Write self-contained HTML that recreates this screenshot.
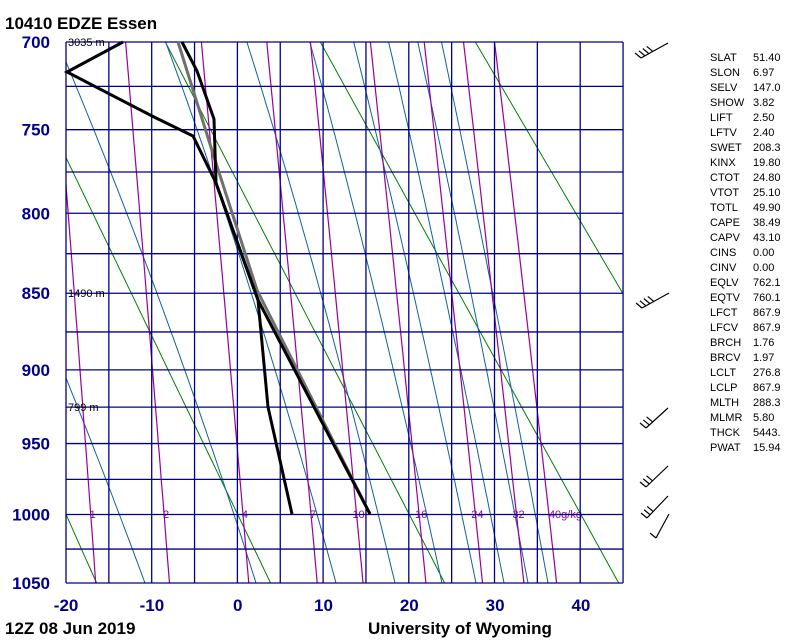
<!DOCTYPE html>
<html><head><meta charset="utf-8"><style>
body{margin:0;background:#fff;width:800px;height:640px;overflow:hidden}
svg{display:block}
text{font-family:"Liberation Sans",sans-serif}
</style></head><body>
<svg id="s" width="800" height="640" xmlns="http://www.w3.org/2000/svg">
<defs><clipPath id="c"><rect x="66" y="42" width="557" height="541"/></clipPath></defs>
<text x="5" y="29" font-size="17" font-weight="bold">10410 EDZE Essen</text>
<g id="g" clip-path="url(#c)"></g>
<g id="axes"></g>
<text x="5" y="634" font-size="17" font-weight="bold">12Z 08 Jun 2019</text>
<text x="368" y="634" font-size="17" font-weight="bold">University of Wyoming</text>
</svg>
<script>
var K=0.286,P0=Math.pow(700,K),P1=Math.pow(1050,K);
function Y(p){return 42+541*(Math.pow(p,K)-P0)/(P1-P0);}
function X(t){return 237.7+8.58*t;}
function T(x){return (x-237.7)/8.58;}
var g=document.getElementById('g'),ax=document.getElementById('axes'),NS='http://www.w3.org/2000/svg';
function el(par,n,a,txt){var e=document.createElementNS(NS,n);for(var k in a)e.setAttribute(k,a[k]);if(txt!==undefined)e.textContent=txt;par.appendChild(e);return e;}
function pl(pts,col,w,par){el(par||g,'polyline',{points:pts.map(function(q){return q[0].toFixed(1)+','+q[1].toFixed(1)}).join(' '),fill:'none',stroke:col,'stroke-width':w});}
// dry adiabats
for(var th=-40;th<=120;th+=20){var pts=[];for(var p=700;p<=1050;p+=10){var t=(th+273.15)*Math.pow(p/1000,K)-273.15;pts.push([X(t),Y(p)]);}pl(pts,'#008000',1);}
// moist
function es(t){return 6.112*Math.exp(17.67*t/(t+243.5));}
function the(t,p){var e=es(t),r=0.622*e/(p-e),tk=t+273.15;return tk*Math.pow(1000/p,K)*Math.exp(2.5e6*r/(1005*tk));}
[145,256,336,395,442,476,504,528,548].forEach(function(xb){var te=the(T(xb),1050);var pts=[];for(var p=700;p<=1050;p+=5){var lo=-90,hi=60;for(var i=0;i<40;i++){var m=(lo+hi)/2;if(the(m,p)<te)lo=m;else hi=m;}pts.push([X(lo),Y(p)]);}pl(pts,'#1060a0',1);});
// mixing ratio
var rs=[1,2,4,7,10,16,24,32,40];
function td(e){var l=Math.log(e/6.112);return 243.5*l/(17.67-l);}
rs.forEach(function(r){var pts=[];for(var p=700;p<=1050;p+=10){pts.push([X(td(r*p/(622+r))),Y(p)]);}pl(pts,'#990099',1.2);
var x=X(td(r*1000/(622+r)));el(g,'text',{x:x+(r==40?0:2),y:518,'font-size':11,fill:'#990099','text-anchor':r==40?'start':'middle'},r==40?'40g/kg':String(r));});
// grid
for(var i=0;i<14;i++){var x=66+i*42.85;el(ax,'line',{x1:x,y1:42,x2:x,y2:583,stroke:'#00008b','stroke-width':1.3});}
for(var p=700;p<=1050;p+=25){var y=Y(p);el(ax,'line',{x1:66,y1:y,x2:623,y2:y,stroke:'#00008b','stroke-width':1.3});
if(p%50==0)el(ax,'text',{x:50,y:y+6,'font-size':17,'font-weight':'bold',fill:'#00008b','text-anchor':'end'},String(p));}
[-20,-10,0,10,20,30,40].forEach(function(t){el(ax,'text',{x:X(t),y:611,'font-size':17,'font-weight':'bold',fill:'#00008b','text-anchor':'middle'},String(t));});
[['3035 m',42],['1490 m',293],['799 m',407]].forEach(function(a){el(ax,'text',{x:68,y:a[1]+4,'font-size':11},a[0]);});
// profiles
pl([[178,42],[215,160],[257,290],[370,514]],'#707070',3,ax);
pl([[182,42],[197,71],[214,119],[216,183],[258,300],[370,514]],'#000',3,ax);
pl([[123,42],[67,72],[156,118],[193,136],[216,183],[258,300],[268,407],[292,514]],'#000',3,ax);
// barbs
function barb(x1,y1,x2,y2,n){el(ax,'line',{x1:x1,y1:y1,x2:x2,y2:y2,stroke:'#000','stroke-width':1.2});var dx=x2-x1,dy=y2-y1,L=Math.hypot(dx,dy),ux=dx/L,uy=dy/L;
for(var i=0;i<n;i++){var bx=x2-ux*i*4.5,by=y2-uy*i*4.5;el(ax,'line',{x1:bx,y1:by,x2:bx-6,y2:by-5,stroke:'#000','stroke-width':1.2});}}
barb(668,43,641,58,4);barb(669,293,642,308,4);barb(668,408,646,428,3);barb(668,466,646,487,3);barb(668,496,647,518,3);barb(669,514,656,538,1);
// stats
var st=[['SLAT','51.40'],['SLON','6.97'],['SELV','147.0'],['SHOW','3.82'],['LIFT','2.50'],['LFTV','2.40'],['SWET','208.3'],['KINX','19.80'],['CTOT','24.80'],['VTOT','25.10'],['TOTL','49.90'],['CAPE','38.49'],['CAPV','43.10'],['CINS','0.00'],['CINV','0.00'],['EQLV','762.1'],['EQTV','760.1'],['LFCT','867.9'],['LFCV','867.9'],['BRCH','1.76'],['BRCV','1.97'],['LCLT','276.8'],['LCLP','867.9'],['MLTH','288.3'],['MLMR','5.80'],['THCK','5443.'],['PWAT','15.94']];
st.forEach(function(s,i){var y=61+i*15;el(ax,'text',{x:710,y:y,'font-size':11},s[0]);el(ax,'text',{x:753,y:y,'font-size':11},s[1]);});
</script>
</body></html>
